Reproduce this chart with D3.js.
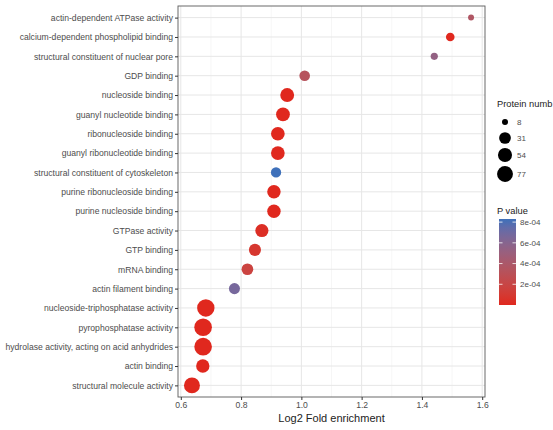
<!DOCTYPE html>
<html>
<head>
<meta charset="utf-8">
<script src="https://cdn.jsdelivr.net/npm/d3@7"></script>
<style>
  html, body { margin: 0; padding: 0; background: #fff; }
  svg { display: block; font-family: "Liberation Sans", Arial, sans-serif; }
</style>
</head>
<body>
<svg id="chart" width="553" height="430"></svg>
<script>
// ---- data (top to bottom) ----
const categories = [
  "actin-dependent ATPase activity",
  "calcium-dependent phospholipid binding",
  "structural constituent of nuclear pore",
  "GDP binding",
  "nucleoside binding",
  "guanyl nucleotide binding",
  "ribonucleoside binding",
  "guanyl ribonucleotide binding",
  "structural constituent of cytoskeleton",
  "purine ribonucleoside binding",
  "purine nucleoside binding",
  "GTPase activity",
  "GTP binding",
  "mRNA binding",
  "actin filament binding",
  "nucleoside-triphosphatase activity",
  "pyrophosphatase activity",
  "hydrolase activity, acting on acid anhydrides",
  "actin binding",
  "structural molecule activity"
];
const foldEnrichment = [1.563, 1.494, 1.441, 1.011, 0.953, 0.939, 0.922, 0.922, 0.916, 0.909,
                        0.909, 0.869, 0.846, 0.821, 0.778, 0.683, 0.674, 0.674, 0.673, 0.637];
const proteinNumber  = [8, 13, 9, 23, 52, 51, 50, 50, 21, 47,
                        47, 44, 34, 31, 26, 100, 103, 103, 46, 78];
const pValue         = [3.7e-4, 1e-6, 5.4e-4, 3.3e-4, 1e-6, 1e-6, 1e-6, 1e-6, 8.3e-4, 1e-6,
                        1e-6, 3e-5, 8e-5, 1.7e-4, 6.7e-4, 1e-6, 1e-6, 1e-6, 1e-6, 1e-6];
const xTicks = [0.6, 0.8, 1.0, 1.2, 1.4, 1.6];
const xMinor = [0.7, 0.9, 1.1, 1.3, 1.5];
const sizeBreaks = [8, 31, 54, 77];
const pBreaks = [2e-4, 4e-4, 6e-4, 8e-4];
const pLabels = ["2e-04", "4e-04", "6e-04", "8e-04"];
const xTitle = "Log2 Fold enrichment";
const sizeTitle = "Protein numb";   // shown truncated at the image edge in the reference
const colorTitle = "P value";

// ---- layout ----
const panel = {left: 178, right: 485, top: 6, bottom: 397};
const svg = d3.select("#chart");

const ext = d3.extent(foldEnrichment);
const pad = (ext[1] - ext[0]) * 0.05;
const x = d3.scaleLinear().domain([ext[0] - pad, ext[1] + pad]).range([panel.left, panel.right]);
const y = d3.scalePoint().domain(categories).range([panel.top, panel.bottom]).padding(0.6);

const sizeMin = 8;
const r = v => 3 + 0.595 * Math.sqrt(Math.max(0, v - sizeMin));

const pDomain = [0, d3.max(pValue)];
const color = d3.scaleLinear().domain(pDomain).range(["#E0281E", "#3E70BA"]).interpolate(d3.interpolateLab);

// grid
const g = svg.append("g");
g.selectAll(".minor").data(xMinor).join("line")
  .attr("x1", d => x(d)).attr("x2", d => x(d))
  .attr("y1", panel.top).attr("y2", panel.bottom)
  .attr("stroke", "#f0f0f0").attr("stroke-width", 0.6);
g.selectAll(".major").data(xTicks).join("line")
  .attr("x1", d => x(d)).attr("x2", d => x(d))
  .attr("y1", panel.top).attr("y2", panel.bottom)
  .attr("stroke", "#e6e6e6").attr("stroke-width", 1);
g.selectAll(".hgrid").data(categories).join("line")
  .attr("x1", panel.left).attr("x2", panel.right)
  .attr("y1", d => y(d)).attr("y2", d => y(d))
  .attr("stroke", "#e6e6e6").attr("stroke-width", 1);

// points
svg.append("g").selectAll("circle").data(categories).join("circle")
  .attr("cx", (d, i) => x(foldEnrichment[i]))
  .attr("cy", d => y(d))
  .attr("r", (d, i) => r(proteinNumber[i]))
  .attr("fill", (d, i) => color(pValue[i]));

// panel border
svg.append("rect")
  .attr("x", panel.left).attr("y", panel.top)
  .attr("width", panel.right - panel.left).attr("height", panel.bottom - panel.top)
  .attr("fill", "none").attr("stroke", "#5a5a5a").attr("stroke-width", 0.9);

// axes
const xAxis = d3.axisBottom(x).tickValues(xTicks).tickFormat(d3.format(".1f")).tickSize(3).tickPadding(2);
const xa = svg.append("g").attr("transform", `translate(0,${panel.bottom})`).call(xAxis);
xa.select(".domain").remove();
xa.selectAll("line").attr("stroke", "#333");
xa.selectAll("text").attr("fill", "#4d4d4d").attr("font-size", "8.6px");

const yAxis = d3.axisLeft(y).tickSize(3).tickPadding(2);
const ya = svg.append("g").attr("transform", `translate(${panel.left},0)`).call(yAxis);
ya.select(".domain").remove();
ya.selectAll("line").attr("stroke", "#333");
ya.selectAll("text").attr("fill", "#4d4d4d").attr("font-size", "8.6px");

svg.append("text")
  .attr("x", (panel.left + panel.right) / 2).attr("y", 422)
  .attr("text-anchor", "middle").attr("font-size", "11px").attr("fill", "#222")
  .text(xTitle);

// size legend
const lg = svg.append("g");
lg.append("text").attr("x", 497).attr("y", 107).attr("font-size", "9.3px").attr("fill", "#222").text(sizeTitle);
const sizeY = [122, 138, 155, 174];
sizeBreaks.forEach((b, i) => {
  lg.append("circle").attr("cx", 505).attr("cy", sizeY[i]).attr("r", r(b)).attr("fill", "#000");
  lg.append("text").attr("x", 517).attr("y", sizeY[i]).attr("dy", "0.35em")
    .attr("font-size", "8px").attr("fill", "#4d4d4d").text(b);
});

// color legend
lg.append("text").attr("x", 497).attr("y", 214).attr("font-size", "9.3px").attr("fill", "#222").text(colorTitle);
const bar = {x: 499, y: 219, w: 17, h: 86};
const defs = svg.append("defs");
const grad = defs.append("linearGradient").attr("id", "pgrad").attr("x1", 0).attr("x2", 0).attr("y1", 1).attr("y2", 0);
d3.range(0, 1.0001, 0.1).forEach(t => {
  grad.append("stop").attr("offset", t).attr("stop-color", color(pDomain[0] + t * (pDomain[1] - pDomain[0])));
});
lg.append("rect").attr("x", bar.x).attr("y", bar.y).attr("width", bar.w).attr("height", bar.h).attr("fill", "url(#pgrad)");
const cy = d3.scaleLinear().domain(pDomain).range([bar.y + bar.h, bar.y]);
pBreaks.forEach((b, i) => {
  lg.append("line").attr("x1", bar.x).attr("x2", bar.x + 3.5).attr("y1", cy(b)).attr("y2", cy(b)).attr("stroke", "#fff").attr("stroke-width", 0.8);
  lg.append("line").attr("x1", bar.x + bar.w - 3.5).attr("x2", bar.x + bar.w).attr("y1", cy(b)).attr("y2", cy(b)).attr("stroke", "#fff").attr("stroke-width", 0.8);
  lg.append("text").attr("x", bar.x + bar.w + 4).attr("y", cy(b)).attr("dy", "0.35em")
    .attr("font-size", "8px").attr("fill", "#4d4d4d").text(pLabels[i]);
});
</script>
</body>
</html>
